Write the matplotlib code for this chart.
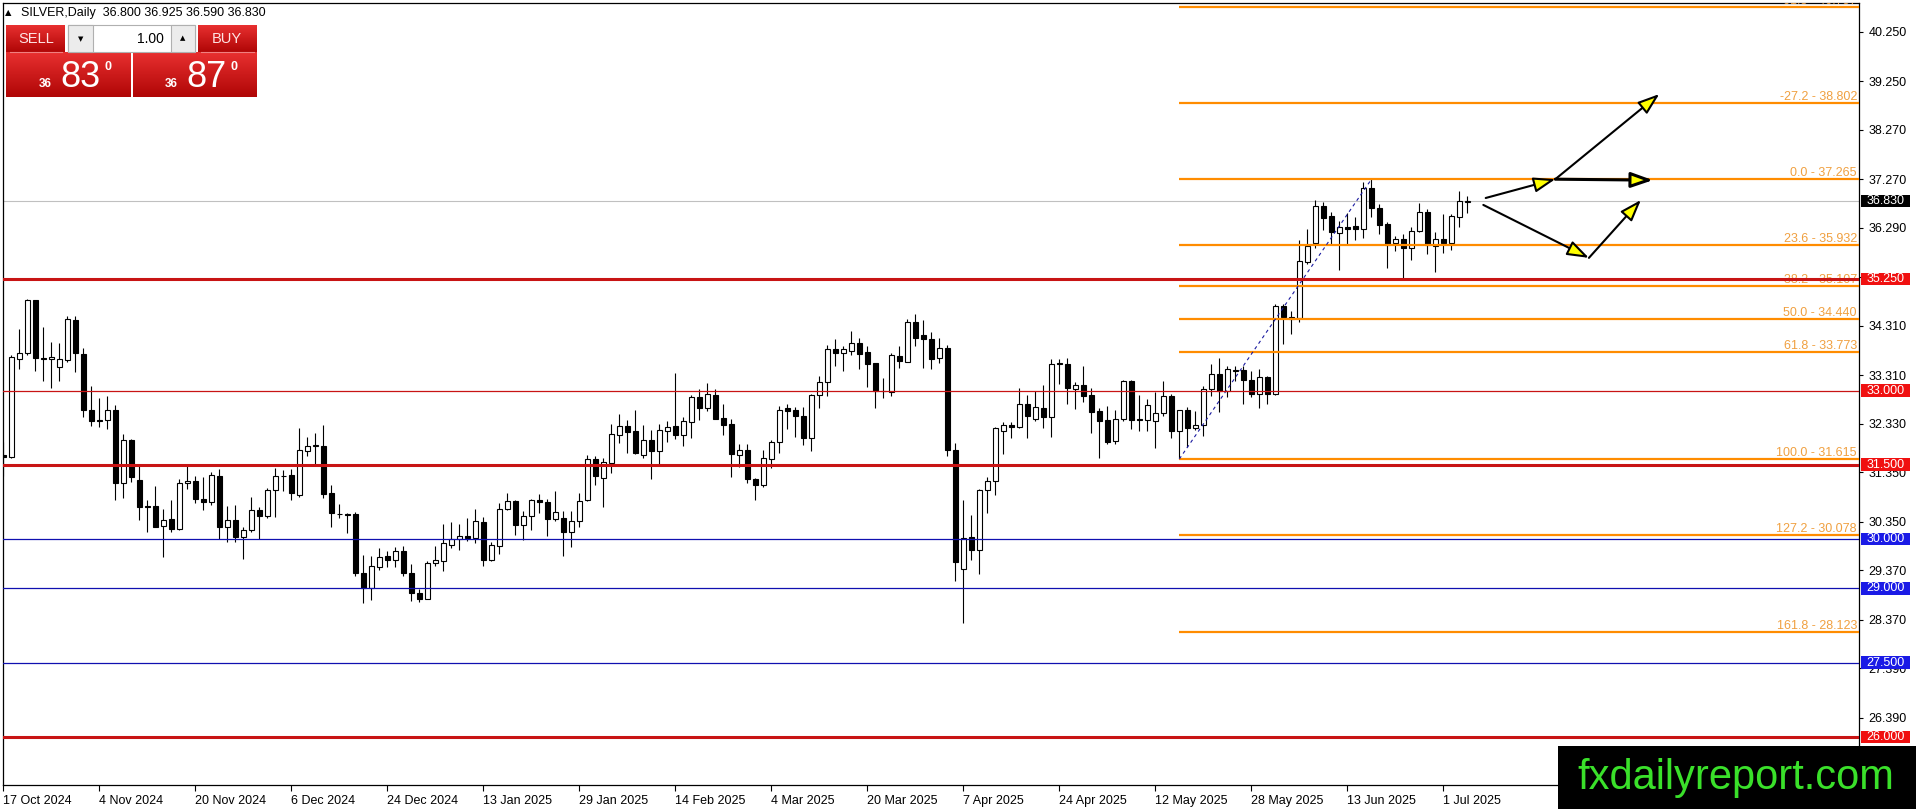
import numpy as np
import matplotlib.pyplot as plt
import matplotlib.transforms as mtransforms
from matplotlib.patches import Rectangle
from matplotlib.colors import LinearSegmentedColormap

plt.rcParams['font.family'] = ['Liberation Sans', 'DejaVu Sans']

# ------------------------------------------------------------------
# SILVER daily candles, one value per bar
opens = [31.70, 31.66, 33.63, 33.75, 34.82, 33.65, 33.63, 33.47, 33.61, 34.43,
         33.74, 32.61, 32.41, 32.40, 32.61, 31.14, 32.01, 31.20, 30.66, 30.67,
         30.26, 30.41, 30.20, 31.13, 31.18, 30.81, 30.74, 31.28, 30.24, 30.39,
         30.03, 30.18, 30.58, 30.47, 30.99, 31.27, 31.29, 30.89, 31.78, 31.88,
         31.88, 30.92, 30.51, 30.50, 30.51, 29.32, 29.00, 29.43, 29.65, 29.58,
         29.75, 29.32, 28.91, 28.79, 29.51, 29.55, 29.88, 29.99, 30.07, 30.01,
         30.35, 29.58, 29.85, 30.61, 30.77, 30.28, 30.47, 30.79, 30.75, 30.40,
         30.42, 30.15, 30.37, 30.78, 31.61, 31.24, 31.54, 32.10, 32.28, 32.18,
         31.69, 32.00, 31.78, 32.19, 32.28, 32.10, 32.37, 32.86, 32.64, 32.91,
         32.44, 32.32, 31.70, 31.80, 31.22, 31.09, 31.62, 31.95, 32.64, 32.60,
         32.48, 32.04, 32.91, 33.18, 33.83, 33.75, 33.80, 33.97, 33.77, 33.55,
         32.99, 32.96, 33.70, 33.58, 34.38, 34.12, 34.05, 33.65, 33.86, 31.80,
         29.39, 30.03, 29.78, 30.99, 31.17, 32.18, 32.31, 32.26, 32.72, 32.43,
         32.65, 32.47, 33.55, 33.53, 33.04, 33.12, 32.91, 32.58, 32.40, 31.98,
         32.43, 33.20, 32.42, 32.41, 32.38, 32.55, 32.89, 32.18, 32.60, 32.24,
         32.30, 33.03, 33.34, 33.00, 33.40, 33.42, 33.22, 32.93, 33.27, 32.93,
         34.71, 34.45, 34.46, 35.60, 35.98, 36.72, 36.52, 36.19, 36.31, 36.33,
         36.26, 37.09, 36.69, 36.36, 35.98, 36.07, 35.88, 36.22, 36.61, 35.91,
         36.07, 35.98, 36.50, 36.80]
highs = [31.96, 33.72, 34.24, 34.84, 34.83, 34.28, 33.98, 33.95, 34.51, 34.51,
         33.85, 33.09, 32.84, 32.89, 32.70, 32.12, 32.03, 31.49, 30.78, 31.08,
         30.61, 30.78, 31.22, 31.51, 31.27, 31.26, 31.35, 31.42, 30.66, 30.68,
         30.24, 30.84, 30.64, 31.04, 31.44, 31.39, 31.41, 32.25, 32.07, 32.15,
         32.30, 31.09, 30.70, 30.53, 30.54, 29.67, 29.65, 29.82, 29.76, 29.84,
         29.85, 29.49, 28.99, 29.55, 29.85, 30.30, 30.34, 30.30, 30.43, 30.61,
         30.45, 29.93, 30.72, 30.92, 30.78, 30.57, 30.81, 30.91, 30.81, 30.96,
         30.57, 30.57, 30.92, 31.69, 31.67, 31.63, 32.33, 32.52, 32.40, 32.60,
         32.30, 32.20, 32.33, 32.39, 33.36, 32.47, 32.91, 33.04, 33.16, 33.04,
         32.72, 32.43, 31.91, 31.91, 31.23, 31.80, 32.01, 32.68, 32.72, 32.66,
         32.67, 32.92, 33.29, 33.92, 34.04, 33.89, 34.20, 34.07, 33.90, 33.56,
         33.26, 33.76, 33.89, 34.45, 34.55, 34.43, 34.18, 34.07, 33.92, 31.94,
         30.78, 30.49, 31.00, 31.25, 32.26, 32.36, 32.36, 33.06, 32.91, 32.99,
         33.11, 33.64, 33.64, 33.65, 33.18, 33.49, 33.06, 32.64, 32.68, 32.61,
         33.22, 33.21, 32.91, 32.82, 32.96, 33.20, 32.93, 32.61, 32.67, 32.58,
         33.10, 33.53, 33.66, 33.50, 33.50, 33.49, 33.40, 33.44, 33.30, 34.75,
         34.74, 34.60, 36.05, 36.27, 36.84, 36.81, 36.60, 36.42, 36.59, 36.50,
         37.21, 37.265, 36.76, 36.40, 36.13, 36.17, 36.30, 36.79, 36.66, 36.20,
         36.57, 36.56, 37.04, 36.925]
lows = [31.28, 31.63, 33.43, 33.72, 33.40, 33.20, 33.05, 33.20, 33.58, 33.38,
        32.47, 32.28, 32.26, 32.23, 30.78, 30.83, 31.15, 30.39, 30.14, 30.24,
        29.63, 30.14, 30.18, 31.01, 30.72, 30.59, 30.68, 30.00, 29.93, 29.93,
        29.60, 30.14, 30.00, 30.43, 30.45, 30.97, 30.78, 30.84, 31.68, 31.47,
        30.83, 30.24, 30.43, 30.12, 29.26, 28.70, 28.77, 29.38, 29.43, 29.43,
        29.26, 28.74, 28.72, 28.78, 29.45, 29.36, 29.81, 29.77, 29.96, 29.92,
        29.45, 29.55, 29.70, 30.58, 30.08, 29.97, 30.18, 30.52, 30.07, 30.37,
        29.66, 29.83, 30.24, 30.77, 31.09, 30.65, 31.34, 31.93, 31.73, 31.72,
        31.64, 31.22, 31.48, 31.96, 32.03, 31.88, 32.04, 32.40, 32.58, 32.42,
        32.10, 31.25, 31.45, 31.13, 30.78, 31.05, 31.43, 31.74, 32.22, 32.07,
        31.89, 31.78, 32.65, 32.89, 33.49, 33.39, 33.72, 33.43, 33.07, 32.64,
        32.85, 32.89, 33.46, 33.57, 33.90, 33.46, 33.43, 33.56, 31.68, 29.16,
        28.31, 29.57, 29.29, 30.52, 30.88, 31.72, 32.05, 32.25, 32.05, 32.39,
        32.24, 32.06, 33.14, 32.72, 32.62, 32.77, 32.14, 31.64, 31.91, 31.91,
        32.39, 32.22, 32.18, 32.18, 31.84, 32.48, 32.05, 31.615, 31.86, 32.21,
        32.08, 32.88, 32.56, 32.86, 33.20, 32.73, 32.87, 32.65, 32.73, 32.90,
        33.94, 34.14, 34.38, 35.56, 35.88, 36.25, 35.96, 35.43, 35.94, 36.05,
        36.09, 36.50, 36.17, 35.47, 35.82, 35.28, 35.63, 36.20, 35.75, 35.39,
        35.78, 35.83, 36.30, 36.59]
closes = [31.66, 33.68, 33.75, 34.82, 33.66, 33.64, 33.67, 33.64, 34.44, 33.75,
          32.61, 32.39, 32.39, 32.61, 31.14, 32.01, 31.25, 30.64, 30.64, 30.25,
          30.39, 30.20, 31.14, 31.18, 30.80, 30.74, 31.30, 30.24, 30.39, 30.03,
          30.18, 30.58, 30.47, 30.99, 31.27, 31.28, 30.93, 31.80, 31.88, 31.89,
          30.91, 30.53, 30.50, 30.49, 29.31, 29.00, 29.46, 29.64, 29.57, 29.75,
          29.31, 28.91, 28.79, 29.52, 29.57, 29.91, 30.00, 30.07, 30.01, 30.36,
          29.57, 29.87, 30.61, 30.77, 30.28, 30.47, 30.79, 30.74, 30.40, 30.55,
          30.15, 30.37, 30.77, 31.61, 31.28, 31.55, 32.12, 32.28, 32.16, 31.74,
          32.00, 31.78, 32.20, 32.27, 32.10, 32.38, 32.86, 32.65, 32.92, 32.43,
          32.31, 31.71, 31.80, 31.22, 31.09, 31.64, 31.95, 32.61, 32.59, 32.49,
          32.04, 32.91, 33.17, 33.83, 33.76, 33.83, 33.97, 33.74, 33.53, 32.99,
          32.98, 33.71, 33.60, 34.38, 34.07, 34.05, 33.64, 33.86, 31.80, 29.53,
          30.02, 29.78, 30.99, 31.18, 32.25, 32.31, 32.26, 32.72, 32.49, 32.66,
          32.47, 33.53, 33.53, 33.05, 33.12, 32.89, 32.57, 32.39, 31.96, 32.43,
          33.20, 32.41, 32.41, 32.70, 32.55, 32.89, 32.18, 32.60, 32.24, 32.31,
          33.03, 33.34, 33.00, 33.43, 33.41, 33.22, 32.93, 33.27, 32.93, 34.71,
          34.48, 34.48, 35.61, 35.92, 36.72, 36.48, 36.20, 36.30, 36.27, 36.26,
          37.09, 36.69, 36.35, 35.95, 36.07, 35.88, 36.23, 36.61, 35.95, 36.07,
          35.98, 36.52, 36.82, 36.83]

date_labels = ['17 Oct 2024', '4 Nov 2024', '20 Nov 2024', '6 Dec 2024', '24 Dec 2024',
               '13 Jan 2025', '29 Jan 2025', '14 Feb 2025', '4 Mar 2025', '20 Mar 2025',
               '7 Apr 2025', '24 Apr 2025', '12 May 2025', '28 May 2025', '13 Jun 2025',
               '1 Jul 2025']
bars_per_label = 12

price_ticks = [40.25, 39.25, 38.27, 37.27, 36.29, 35.29, 34.31, 33.31, 32.33,
               31.35, 30.35, 29.37, 28.37, 27.39, 26.39]

# fibonacci from the 12 May low to the June high
fib_ratios = [-61.8, -27.2, 0.0, 23.6, 38.2, 50.0, 61.8, 100.0, 127.2, 161.8]
fib_prices = [40.757, 38.802, 37.265, 35.932, 35.107, 34.440, 33.773, 31.615, 30.078, 28.123]
fib_low_bar, fib_high_bar = 147, 171

# horizontal support / resistance levels
red_levels = [35.25, 33.0, 31.5, 26.0]
blue_levels = [30.0, 29.0, 27.5]
thick_levels = [35.25, 31.5, 26.0]
last_price = 36.830

# scenario arrows as (bar, price) anchors
path_up = [(185.3, 36.89), (194.0, 37.27), (207.0, 38.99)]
path_flat = [(194.0, 37.27), (206.2, 37.25)]
path_dip = [(185.0, 36.75), (198.2, 35.68), (204.7, 36.85)]

# ------------------------------------------------------------------
W, H = 1916, 809
fig = plt.figure(figsize=(W / 100, H / 100), dpi=100, facecolor='white')
px_l, px_r, px_t, px_b = 2.7, 1859, 2.7, 785
ax = fig.add_axes([px_l / W, 1 - px_b / H, (px_r - px_l) / W, (px_b - px_t) / H])
ax.set_xlim(-0.075, 231.96)
ax.set_ylim(25.029, 40.836)

x = np.arange(len(opens))
o, h, l, c = map(np.array, (opens, highs, lows, closes))
up = c >= o
body_lo = np.minimum(o, c)
body_h = np.maximum(np.abs(c - o), 0.012)

ax.vlines(x, l, h, color='black', lw=0.8, zorder=3)
ax.bar(x[up], body_h[up], bottom=body_lo[up], width=0.62, color='white',
       edgecolor='black', lw=0.8, zorder=4)
ax.bar(x[~up], body_h[~up], bottom=body_lo[~up], width=0.62, color='black',
       edgecolor='black', lw=0.8, zorder=4)

# current price line
ax.axhline(last_price, color='#c0c0c0', lw=0.8, zorder=2)

# levels
for lv in red_levels:
    ax.axhline(lv, color='#c81414', lw=2.2 if lv in thick_levels else 0.9, zorder=6)
for lv in blue_levels:
    ax.axhline(lv, color='#1010b0', lw=0.9, zorder=6)

# fib retracement
ax.hlines(fib_prices, fib_low_bar, 240, color='#ff8c00', lw=1.6, zorder=5)
ax.plot([fib_low_bar, fib_high_bar], [fib_prices[7], fib_prices[2]], color='#1a1aa0',
        lw=0.8, ls=(0, (3, 3)), zorder=5)
trans = mtransforms.blended_transform_factory(ax.transAxes, ax.transData)
for r, p in zip(fib_ratios, fib_prices):
    ax.text(0.9989, p, f'{r:.1f} - {p:.3f}', transform=trans, ha='right', va='bottom',
            color='#f0a040', fontsize=9, zorder=5, clip_on=True)

# scenario arrows
def draw_path(pts, lw=1.5):
    for (x0, y0), (x1, y1) in zip(pts[:-1], pts[1:]):
        ax.annotate('', xy=(x1, y1), xytext=(x0, y0),
                    arrowprops=dict(arrowstyle='-|>,head_length=1.2,head_width=0.42',
                                    fc='#ffff00', ec='black', lw=lw,
                                    shrinkA=0, shrinkB=0, mutation_scale=11),
                    zorder=8)

draw_path(path_up)
draw_path(path_flat, lw=2.2)
draw_path(path_dip)

# axes cosmetics
for sp in ax.spines.values():
    sp.set_color('black')
    sp.set_linewidth(0.9)
ax.yaxis.tick_right()
ax.set_yticks(price_ticks)
ax.set_yticklabels([f'{t:.3f}' for t in price_ticks])
ax.tick_params(axis='y', length=3, width=0.8, pad=4, labelsize=9, colors='black')
ax.set_xticks(range(0, bars_per_label * len(date_labels), bars_per_label))
ax.set_xticklabels(date_labels, ha='left')
ax.tick_params(axis='x', length=4, width=0.8, pad=3, labelsize=9)

# price tags on the right scale
def price_tag(p, face):
    ax.add_patch(Rectangle((1.0011, p - 0.128), 0.0264, 0.256, transform=trans,
                           facecolor=face, edgecolor='none', clip_on=False, zorder=9))
    ax.text(1.0143, p, f'{p:.3f}', transform=trans, ha='center', va='center',
            color='white', fontsize=9, clip_on=False, zorder=10)

for lv in red_levels:
    price_tag(lv, '#f01010')
for lv in blue_levels:
    price_tag(lv, '#1a1ae6')
price_tag(last_price, 'black')

# ------------------------------------------------------------------
# overlay in pixel units: header, one-click trading panel, watermark
ov = fig.add_axes([0, 0, 1, 1])
ov.patch.set_visible(False)
ov.axis('off')

ov.text(5, 13, '▲', fontsize=6, va='center', family='DejaVu Sans')
ov.text(21, 13, 'SILVER,Daily  36.800 36.925 36.590 36.830', fontsize=9, va='center')

red_grad = LinearSegmentedColormap.from_list('rg', ['#e83030', '#b00606'])
grad = np.linspace(0, 1, 64).reshape(-1, 1)
for x0, x1, y0, y1 in [(6, 65, 25, 52), (198, 257, 25, 52), (6, 131, 52, 97), (133, 257, 52, 97)]:
    ov.imshow(grad, cmap=red_grad, extent=(x0, x1, y1, y0), aspect='auto', zorder=1)
ov.plot([10, 62], [52, 52], color='#f08080', lw=0.8, zorder=2)
ov.plot([201, 254], [52, 52], color='#f08080', lw=0.8, zorder=2)
ov.add_patch(Rectangle((68, 25), 127, 27, facecolor='white', edgecolor='#b0b0b0', lw=0.8, zorder=1))
ov.add_patch(Rectangle((68, 25), 25, 27, facecolor='#ececec', edgecolor='#b0b0b0', lw=0.8, zorder=2))
ov.add_patch(Rectangle((171, 25), 24, 27, facecolor='#ececec', edgecolor='#b0b0b0', lw=0.8, zorder=2))
ov.text(80.5, 39, '▼', fontsize=5, ha='center', va='center', family='DejaVu Sans', zorder=3)
ov.text(183, 38, '▲', fontsize=5, ha='center', va='center', family='DejaVu Sans', zorder=3)
ov.text(164, 38.5, '1.00', fontsize=10, ha='right', va='center', zorder=3)
ov.text(36, 38.5, 'SELL', fontsize=10.5, ha='center', va='center', color='#ffe4e4', zorder=3)
ov.text(227, 38.5, 'BUY', fontsize=10.5, ha='center', va='center', color='#ffe4e4', zorder=3)
for xs, big in [(39, '83'), (165, '87')]:
    ov.text(xs, 87.3, '36', fontsize=8.5, weight='bold', color='white', va='baseline', zorder=3)
    ov.text(xs + 21, 87.3, big, fontsize=26, color='white', va='baseline', zorder=3)
    ov.text(xs + 66, 70, '0', fontsize=9, weight='bold', color='white', va='baseline', zorder=3)

ov.add_patch(Rectangle((1558, 746), 358, 63, facecolor='black', edgecolor='none', zorder=4))
ov.text(1736, 778, 'fxdailyreport.com', fontsize=30, color='#3ae02a',
        ha='center', va='center', zorder=5)

ov.set_xlim(0, W)
ov.set_ylim(H, 0)

fig.savefig('out.png', dpi=100, facecolor='white')
